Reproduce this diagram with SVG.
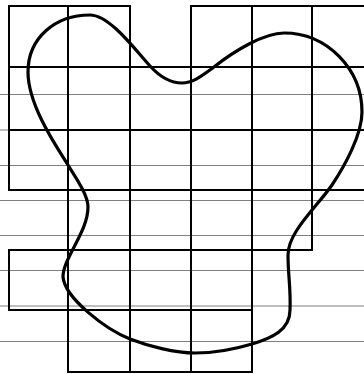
<svg xmlns="http://www.w3.org/2000/svg" width="364" height="374" viewBox="0 0 364 374">
<style>
.g{stroke:#808080;stroke-width:1;fill:none}
.b{stroke:#000;stroke-width:2;fill:none;stroke-linecap:square}
.c{stroke:#000;stroke-width:3.2;fill:none;stroke-linejoin:round}
</style>
<rect width="364" height="374" fill="#fff"/>
<g id="guides">
<line class="g" x1="0" y1="94.5" x2="364" y2="94.5"/>
<line class="g" x1="0" y1="130" x2="364" y2="130"/>
<line class="g" x1="0" y1="165.5" x2="364" y2="165.5"/>
<line class="g" x1="0" y1="200.5" x2="364" y2="200.5"/>
<line class="g" x1="0" y1="235.5" x2="364" y2="235.5"/>
<line class="g" x1="0" y1="270.5" x2="364" y2="270.5"/>
<line class="g" x1="0" y1="306" x2="364" y2="306"/>
<line class="g" x1="0" y1="341.5" x2="364" y2="341.5"/>
</g>
<g id="grid">
<line class="b" x1="9" y1="6" x2="130" y2="6"/>
<line class="b" x1="191" y1="6" x2="364" y2="6"/>
<line class="b" x1="9" y1="67" x2="364" y2="67"/>
<line class="b" x1="9" y1="130" x2="364" y2="130"/>
<line class="b" x1="9" y1="190" x2="364" y2="190"/>
<line class="b" x1="9" y1="250" x2="312" y2="250"/>
<line class="b" x1="9" y1="310" x2="252" y2="310"/>
<line class="b" x1="68" y1="372" x2="252" y2="372"/>
<line class="b" x1="9" y1="6" x2="9" y2="190"/>
<line class="b" x1="9" y1="250" x2="9" y2="310"/>
<line class="b" x1="68" y1="6" x2="68" y2="372"/>
<line class="b" x1="130" y1="6" x2="130" y2="372"/>
<line class="b" x1="191" y1="6" x2="191" y2="372"/>
<line class="b" x1="252" y1="6" x2="252" y2="372"/>
<line class="b" x1="312" y1="6" x2="312" y2="250"/>
</g>
<g id="curve">
<path class="c" d="M90,15 C110,15 136,51 150,66 C160,77 170,83 182,83 C194,83 204,74 214,67 C234,51 264,33 284,33 C327,33 362,69 362,112 C362,135 344,167 332,185 C316,208 288,232 288,255 C288,275 291,290 290,310 C290,330 272,338 252,344 C232,350 212,353 195,353 C175,353 148,346 130,339 C105,329 65,298 63,277 C63,258 88,232 88,207 C88,195 76,178 68,165 C56,146 28,105 28,72 C28,38 55,15 90,15 Z"/>
</g>
</svg>
